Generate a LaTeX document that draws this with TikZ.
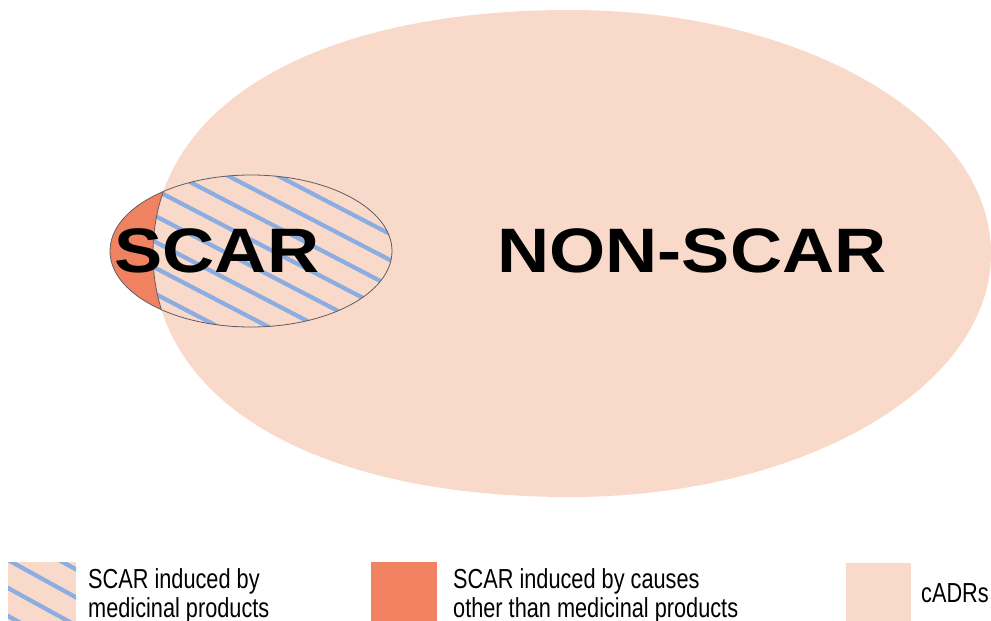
\documentclass[tikz,border=0pt]{standalone}
\usepackage{fontspec}
\setmainfont{Liberation Sans}
\newfontfamily\bigfont[FakeStretch=1.15]{Liberation Sans}
\newfontfamily\legfont[FakeStretch=0.79]{Liberation Sans}
\definecolor{cadr}{RGB}{249,217,202}
\definecolor{scarred}{RGB}{240,130,98}
\definecolor{hatchblue}{RGB}{140,173,226}
\definecolor{edgegray}{RGB}{95,95,95}
\newcommand\bigpath{(153,253.5) .. controls (153,105) and (315.6,10) .. (570,10)
  .. controls (802.5,10) and (991,119) .. (991,253.5)
  .. controls (991,388) and (802.5,497) .. (570,497)
  .. controls (315.6,497) and (153,402) .. (153,253.5) -- cycle}
\newcommand\smallpath{(251,251) ellipse [x radius=141, y radius=76]}
\tikzset{
  hatchline/.style={draw=hatchblue, line width=4.2pt},
  outline/.style={draw=edgegray, line width=0.8pt},
  bigword/.style={font=\bigfont\bfseries\fontsize{62.8}{70}\selectfont, inner sep=0pt, anchor=base},
  legword/.style={font=\legfont\fontsize{27.5}{30}\selectfont, inner sep=0pt, anchor=base west},
}
\begin{document}
\begin{tikzpicture}[x=1pt,y=-1pt]
\useasboundingbox (0,0) rectangle (991,621);
% big cADR region
\fill[cadr] \bigpath;
% small SCAR ellipse, red part
\fill[scarred] \smallpath;
\begin{scope}
  \clip \bigpath;
  \fill[cadr] \smallpath;
  \clip \smallpath;
  \foreach \n in {-6,...,9}
    \draw[hatchline] (90,{0.52*90+109.2+26*\n}) -- (410,{0.52*410+109.2+26*\n});
\end{scope}
\begin{scope}
  \clip \smallpath;
  \draw[outline] \bigpath;
\end{scope}
\draw[outline] \smallpath;
% labels
\node[bigword] (scar) at (217,272) {SCAR};
\node[bigword] (nonscar) at (692,272) {NON-SCAR};
% legend
\begin{scope}
  \clip (8,562) rectangle (76,622);
  \fill[cadr] (8,562) rectangle (76,622);
  \foreach \n in {-2,...,3}
    \draw[hatchline] (0,{560-0.55*8+28*\n}) -- (90,{560+0.55*82+28*\n});
\end{scope}
\node[legword] (l1a) at (88,588) {SCAR induced by};
\node[legword] (l1b) at (88,617) {medicinal products};
\fill[scarred] (371,562) rectangle (437,622);
\node[legword] (l2a) at (453,588) {SCAR induced by causes};
\node[legword] (l2b) at (453,617) {other than medicinal products};
\fill[cadr] (846,563) rectangle (911,622);
\node[legword] (l3) at (921,602) {cADRs};
\end{tikzpicture}
\end{document}
